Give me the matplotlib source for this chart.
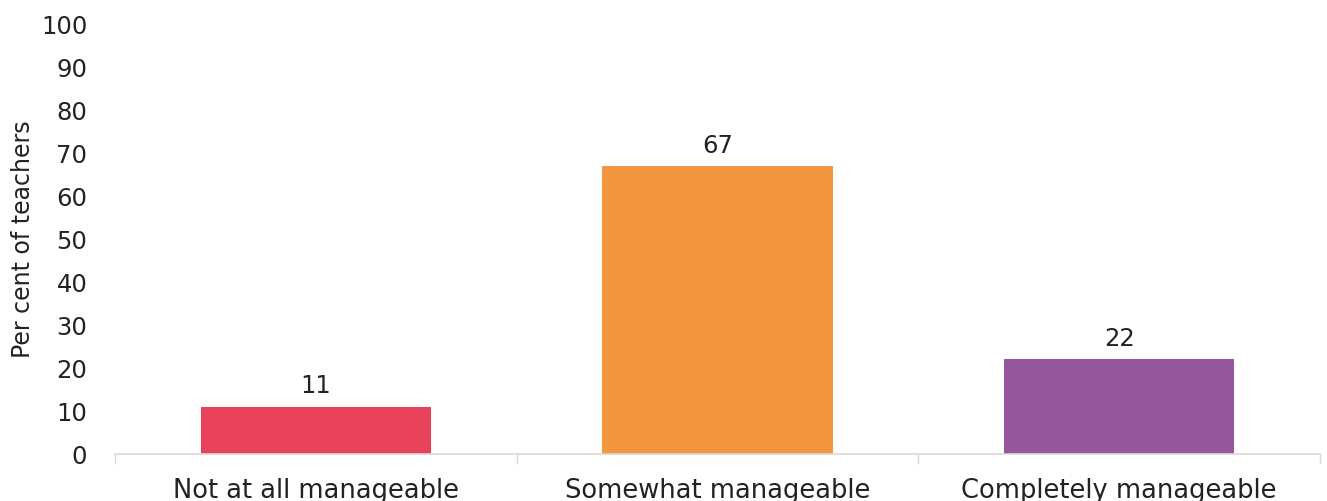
import matplotlib.pyplot as plt
from matplotlib.ticker import FixedLocator

# Umfragewerte
categories = ['Not at all manageable', 'Somewhat manageable', 'Completely manageable']
values = [11, 67, 22]
colors = ['#E8435A', '#F39640', '#96569B']

plt.rcParams['font.family'] = ['DejaVu Sans']

fig = plt.figure(figsize=(13.27, 5.01), dpi=100)
ax = fig.add_axes([0.0867, 0.0938, 0.908, 0.858])

x = range(len(categories))
bars = ax.bar(x, values, width=0.573, color=colors, zorder=2)

for b, v in zip(bars, values):
    ax.annotate(str(v), (b.get_x() + b.get_width() / 2, v), xytext=(0, 6),
                textcoords='offset points', ha='center', va='bottom',
                fontsize=17.5, color='#222222')

ax.set_xlim(-0.5, 2.5)
ax.set_ylim(0, 100)
ax.set_yticks(range(0, 101, 10))
ax.set_xticks(list(x))
ax.set_xticklabels(categories)
ax.xaxis.set_minor_locator(FixedLocator([-0.5, 0.5, 1.5, 2.5]))

ax.tick_params(axis='x', which='major', length=0, pad=17, labelsize=18.5, labelcolor='#222222')
ax.tick_params(axis='x', which='minor', length=7, width=1, color='#d9d9d9')
ax.tick_params(axis='y', length=0, pad=20, labelsize=17.5, labelcolor='#222222')

for s in ['top', 'right', 'left']:
    ax.spines[s].set_visible(False)
ax.spines['bottom'].set_color('#d9d9d9')
ax.spines['bottom'].set_linewidth(1.2)

ax.set_ylabel('Per cent of teachers', fontsize=17, color='#222222', labelpad=4)

fig.savefig('out.png', dpi=100)
